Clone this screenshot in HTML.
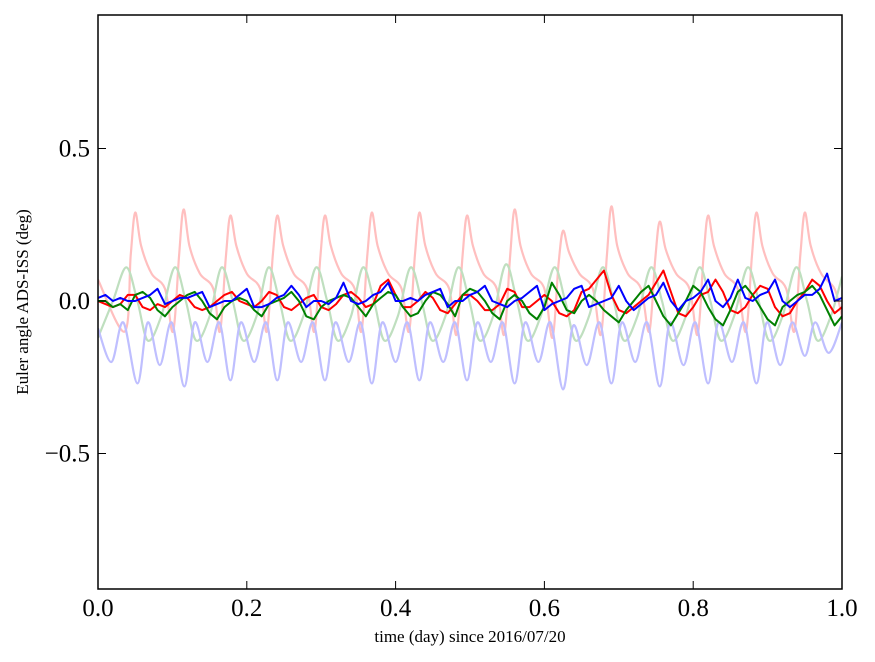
<!DOCTYPE html>
<html><head><meta charset="utf-8"><style>
body{margin:0;background:#fff;}
svg{display:block;font-family:"Liberation Serif",serif;}
</style></head><body>
<svg id="chart" width="875" height="662">
<rect x="0" y="0" width="875" height="662" fill="#fff"/>
<g id="series" clip-path="url(#clip)"></g>
<clipPath id="clip"><rect x="98" y="15" width="744" height="574"/></clipPath>
<rect x="98" y="15" width="744" height="574" fill="none" stroke="#000" stroke-width="1.5"/>
<g id="axes"></g>
<text x="470" y="642" font-size="17" text-anchor="middle">time (day) since 2016/07/20</text>
<text transform="translate(28,302) rotate(-90)" font-size="17" text-anchor="middle">Euler angle ADS-ISS (deg)</text>
</svg>
<script>
const xTicks=[0,0.2,0.4,0.6,0.8,1.0];
const xTickLabels=["0.0","0.2","0.4","0.6","0.8","1.0"];
const yTicks=[-0.5,0,0.5];
const yTickLabels=["\u22120.5","0.0","0.5"];
const fRedT=[0,0.036,0.044,0.05,0.058,0.072,0.09,0.101,0.109,0.115,0.123,0.137,0.155,0.164,0.172,0.178,0.186,0.2,0.218,0.227,0.235,0.241,0.249,0.263,0.281,0.291,0.299,0.305,0.313,0.327,0.345,0.354,0.362,0.368,0.376,0.39,0.408,0.418,0.426,0.432,0.44,0.454,0.472,0.482,0.49,0.496,0.504,0.518,0.536,0.546,0.554,0.56,0.568,0.582,0.6,0.611,0.619,0.625,0.633,0.647,0.665,0.676,0.684,0.69,0.698,0.712,0.73,0.741,0.749,0.755,0.763,0.777,0.795,0.806,0.814,0.82,0.828,0.842,0.86,0.871,0.879,0.885,0.893,0.907,0.925,0.936,0.944,0.95,0.958,0.972,0.99,1.0];
const fRedV=[0.07,-0.10,0.15,0.29,0.18,0.09,0.04,-0.10,0.15,0.30,0.18,0.09,0.04,-0.10,0.15,0.28,0.18,0.09,0.04,-0.10,0.15,0.28,0.18,0.09,0.04,-0.10,0.15,0.28,0.18,0.09,0.04,-0.10,0.15,0.29,0.18,0.09,0.04,-0.10,0.15,0.29,0.18,0.09,0.04,-0.11,0.15,0.28,0.18,0.09,0.04,-0.11,0.15,0.30,0.18,0.09,0.04,-0.12,0.12,0.23,0.16,0.09,0.04,-0.11,0.15,0.31,0.18,0.09,0.04,-0.10,0.14,0.26,0.17,0.09,0.04,-0.11,0.15,0.28,0.18,0.09,0.04,-0.10,0.15,0.29,0.18,0.09,0.04,-0.10,0.15,0.29,0.18,0.09,0.04,-0.05];
const fGreenT=[0,0.02,0.038,0.053,0.067,0.085,0.103,0.118,0.132,0.15,0.166,0.181,0.195,0.213,0.229,0.244,0.258,0.276,0.293,0.308,0.322,0.34,0.356,0.371,0.385,0.403,0.42,0.435,0.449,0.467,0.484,0.499,0.513,0.531,0.548,0.563,0.577,0.595,0.613,0.628,0.642,0.66,0.678,0.693,0.707,0.725,0.743,0.758,0.772,0.79,0.808,0.823,0.837,0.855,0.873,0.888,0.902,0.92,0.938,0.953,0.967,0.985,1.0];
const fGreenV=[-0.12,0.0,0.11,0.0,-0.13,-0.05,0.11,0.0,-0.13,-0.05,0.11,0.0,-0.13,-0.05,0.11,0.0,-0.13,-0.05,0.11,0.0,-0.13,-0.05,0.11,0.0,-0.13,-0.05,0.11,0.0,-0.13,-0.05,0.11,0.0,-0.13,-0.05,0.12,0.0,-0.13,-0.05,0.11,0.0,-0.13,-0.05,0.11,0.0,-0.13,-0.05,0.11,0.0,-0.13,-0.05,0.11,0.0,-0.13,-0.05,0.11,0.0,-0.13,-0.05,0.11,0.0,-0.13,-0.05,0.08];
const fBlueT=[0,0.018,0.034,0.053,0.067,0.083,0.099,0.116,0.13,0.147,0.163,0.178,0.192,0.21,0.226,0.241,0.255,0.273,0.289,0.305,0.319,0.337,0.353,0.368,0.382,0.4,0.416,0.432,0.446,0.464,0.48,0.496,0.51,0.528,0.544,0.56,0.574,0.592,0.608,0.625,0.639,0.657,0.674,0.69,0.704,0.722,0.738,0.755,0.769,0.787,0.803,0.82,0.834,0.852,0.868,0.885,0.899,0.917,0.933,0.95,0.964,0.982,1.0];
const fBlueV=[-0.09,-0.20,-0.07,-0.27,-0.07,-0.21,-0.07,-0.28,-0.07,-0.20,-0.07,-0.26,-0.07,-0.20,-0.07,-0.26,-0.07,-0.20,-0.07,-0.26,-0.07,-0.20,-0.07,-0.27,-0.07,-0.20,-0.07,-0.26,-0.07,-0.20,-0.07,-0.26,-0.07,-0.20,-0.07,-0.27,-0.07,-0.20,-0.07,-0.29,-0.08,-0.21,-0.07,-0.27,-0.07,-0.20,-0.07,-0.28,-0.07,-0.21,-0.07,-0.27,-0.07,-0.20,-0.07,-0.27,-0.07,-0.21,-0.07,-0.18,-0.07,-0.17,-0.07];
const solidRed=[0.0,-0.01,-0.02,-0.01,0.02,0.02,-0.02,-0.03,-0.01,-0.02,0.0,
0.02,0.01,-0.02,-0.03,-0.02,0.0,0.02,0.03,0.0,-0.01,
-0.02,0.0,0.03,0.02,-0.02,-0.03,-0.01,0.01,0.02,-0.02,
-0.03,-0.01,0.02,0.03,0.01,-0.02,-0.01,0.05,0.07,0.02,
-0.02,-0.02,0.0,0.03,0.01,-0.03,-0.04,-0.01,0.02,0.02,
0.0,-0.03,-0.03,-0.01,0.04,0.03,-0.02,-0.02,0.0,0.02,
0.0,-0.04,-0.05,-0.03,0.03,0.04,0.07,0.1,0.02,-0.03,
-0.04,-0.02,0.0,0.02,0.06,0.1,0.03,-0.04,-0.05,-0.02,
0.02,0.03,0.07,0.03,-0.03,-0.04,-0.02,0.02,0.05,0.04,
-0.02,-0.05,-0.04,0.0,0.03,0.07,0.05,0.0,-0.04,-0.02];
const solidGreen=[0.0,0.0,-0.02,-0.01,-0.03,0.02,0.03,0.01,-0.03,-0.05,-0.02,
0.0,0.02,0.03,0.0,-0.04,-0.06,-0.02,0.0,0.01,0.0,
-0.03,-0.05,-0.01,0.0,0.01,0.03,0.0,-0.05,-0.06,-0.02,
0.0,0.01,0.02,0.01,-0.02,-0.05,-0.01,0.01,0.03,0.02,
-0.02,-0.05,-0.04,0.0,0.03,0.02,-0.01,-0.05,0.02,0.04,
0.03,0.0,-0.04,-0.06,0.0,0.02,0.0,-0.04,-0.06,-0.02,
0.06,0.02,-0.03,-0.04,0.0,0.02,0.0,-0.03,-0.05,-0.07,
-0.03,0.0,0.03,0.05,0.0,-0.05,-0.08,-0.04,0.0,0.05,
0.03,-0.02,-0.06,-0.08,-0.03,0.03,0.05,0.02,-0.02,-0.06,
-0.08,-0.02,0.0,0.02,0.03,0.05,0.02,-0.03,-0.08,-0.05];
const solidBlue=[0.01,0.02,0.0,0.01,0.0,0.0,0.01,0.02,0.04,-0.01,0.0,
0.01,0.01,0.02,0.03,-0.02,-0.01,0.0,0.0,0.02,0.04,
-0.02,-0.02,-0.01,0.01,0.02,0.05,0.02,-0.02,0.0,0.0,
-0.01,0.01,0.06,0.0,-0.01,0.0,0.02,0.03,0.06,0.0,
0.0,0.01,0.0,0.02,0.03,0.04,-0.02,0.0,0.0,0.02,
0.03,0.05,0.0,-0.01,-0.02,0.0,0.01,0.03,0.05,-0.03,
-0.01,0.0,0.01,0.04,0.05,-0.02,-0.01,0.0,0.01,0.05,
0.0,-0.03,-0.01,0.01,0.02,0.06,0.0,-0.03,0.0,0.01,
0.03,0.07,0.0,-0.02,0.01,0.07,0.01,0.0,0.02,0.03,
0.07,0.0,-0.02,0.0,0.02,0.02,0.04,0.09,0.0,0.01];

const NS="http://www.w3.org/2000/svg";
const X0=98,X1=842,Y0=15,Y1=589;
const xScale=t=>X0+t*(X1-X0);
const yScale=v=>301-v*305;
function smoothPath(ts,vs){
  const p=ts.map((t,i)=>[xScale(t),yScale(vs[i])]);
  let d="M"+p[0][0].toFixed(1)+","+p[0][1].toFixed(1);
  for(let i=0;i<p.length-1;i++){
    const a=p[i-1]||p[i],b=p[i],c=p[i+1],e=p[i+2]||c;
    const c1=[b[0]+(c[0]-a[0])/6,b[1]+(c[1]-a[1])/6];
    const c2=[c[0]-(e[0]-b[0])/6,c[1]-(e[1]-b[1])/6];
    d+="C"+c1[0].toFixed(1)+","+c1[1].toFixed(1)+" "+c2[0].toFixed(1)+","+c2[1].toFixed(1)+" "+c[0].toFixed(1)+","+c[1].toFixed(1);
  }
  return d;
}
const g=document.getElementById("series");
function addLine(ts,vs,color,w,name,smooth){
  const el=document.createElementNS(NS,"path");
  const d=smooth?smoothPath(ts,vs):"M"+ts.map((t,i)=>xScale(t).toFixed(1)+","+yScale(vs[i]).toFixed(1)).join("L");
  el.setAttribute("d",d);
  el.setAttribute("fill","none");el.setAttribute("stroke",color);el.setAttribute("stroke-width",w);
  el.setAttribute("stroke-linejoin","round");
  
  
  g.appendChild(el);
}
addLine(fRedT,fRedV,"#ffbfbf",2.2,"faint-red-series",true);
addLine(fGreenT,fGreenV,"#bfdfbf",2.2,"faint-green-series",true);
addLine(fBlueT,fBlueV,"#bfbfff",2.2,"faint-blue-series",true);
const gridT=solidRed.map((_,i)=>i/100);
addLine(gridT,solidRed,"#ff0000",2,"red-series",false);
addLine(gridT,solidGreen,"#008000",2,"green-series",false);
addLine(gridT,solidBlue,"#0000ff",2,"blue-series",false);

const ax=document.getElementById("axes");
xTicks.forEach((t,i)=>{
  const x=xScale(t);
  const l=document.createElementNS(NS,"path");
  l.setAttribute("d",`M${x},${Y1}v-8M${x},${Y0}v8`);l.setAttribute("stroke","#000");
  
  
  ax.appendChild(l);
  const tx=document.createElementNS(NS,"text");
  tx.setAttribute("x",x);tx.setAttribute("y",616);tx.setAttribute("font-size","25");tx.setAttribute("text-anchor","middle");
  tx.textContent=xTickLabels[i];
  
  
  ax.appendChild(tx);
});
yTicks.forEach((v,i)=>{
  const y=yScale(v);
  const l=document.createElementNS(NS,"path");
  l.setAttribute("d",`M${X0},${y}h8M${X1},${y}h-8`);l.setAttribute("stroke","#000");
  
  
  ax.appendChild(l);
  const tx=document.createElementNS(NS,"text");
  tx.setAttribute("x",90);tx.setAttribute("y",y+8);tx.setAttribute("font-size","25");tx.setAttribute("text-anchor","end");
  tx.textContent=yTickLabels[i];
  
  
  ax.appendChild(tx);
});
</script>
</body></html>
